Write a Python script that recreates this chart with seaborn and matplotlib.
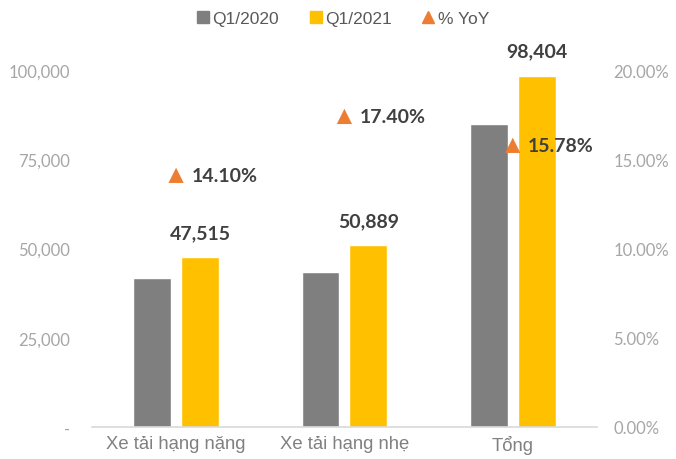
import numpy as np
import pandas as pd
import seaborn as sns
import matplotlib.pyplot as plt
from matplotlib.lines import Line2D
from matplotlib.ticker import FuncFormatter

categories = ["Xe tải hạng nặng", "Xe tải hạng nhẹ", "Tổng"]
q1_2020 = [41643, 43347, 84990]
q1_2021 = [47515, 50889, 98404]
yoy_pct = [14.10, 17.40, 15.78]
series_names = ["Q1/2020", "Q1/2021"]
legend_labels = ["Q1/2020", "Q1/2021", "% YoY"]

GRAY = "#7F7F7F"
GOLD = "#FFC000"
ORANGE = "#ED7D31"
TICK_C = "#A6A6A6"
LABEL_C = "#808080"
VALUE_C = "#404040"

df = pd.DataFrame({
    "cat": categories * 2,
    "series": [series_names[0]] * 3 + [series_names[1]] * 3,
    "value": q1_2020 + q1_2021,
})

sns.set_theme(style="white")
plt.rcParams["font.family"] = ["Liberation Sans", "DejaVu Sans"]

fig = plt.figure(figsize=(6.76, 4.60), dpi=100)
ax = fig.add_axes([0.136, 0.0696, 0.747, 0.776])

sns.barplot(data=df, x="cat", y="value", hue="series", order=categories,
            hue_order=series_names, palette=[GRAY, GOLD], width=0.568, gap=0.21,
            saturation=1, errorbar=None, legend=False, ax=ax)

ax.set_xlim(-0.5, 2.5)
ax.set_ylim(0, 100000)
ax.set_yticks([0, 25000, 50000, 75000, 100000])
ax.yaxis.set_major_formatter(FuncFormatter(lambda v, p: "-" if v == 0 else f"{v:,.0f}"))
ax.set_xlabel("")
ax.set_ylabel("")
for s in ["top", "left", "right"]:
    ax.spines[s].set_visible(False)
ax.spines["bottom"].set_color("#D9D9D9")
ax.spines["bottom"].set_linewidth(1.2)
ax.tick_params(axis="x", length=0, pad=6, labelsize=13.3, labelcolor=LABEL_C)
ax.tick_params(axis="y", length=0, pad=16, labelsize=12, labelcolor=TICK_C)
for t in ax.get_yticklabels():
    t.set_family(["Lato", "DejaVu Sans"])
for t in ax.get_xticklabels():
    t.set_family(["Liberation Sans", "DejaVu Sans"])

# value labels above the Q1/2021 bars
gold_bars = ax.containers[1]
for bar, v in zip(gold_bars, q1_2021):
    ax.annotate(f"{v:,.0f}", (bar.get_x() + bar.get_width() / 2, v),
                xytext=(0, 18), textcoords="offset points", ha="center", va="center",
                fontsize=14, fontweight="bold", color=VALUE_C, family=["Lato", "DejaVu Sans"])

# YoY growth on the secondary axis
ax2 = ax.twinx()
ax2.set_ylim(0, 20)
ax2.set_yticks([0, 5, 10, 15, 20])
ax2.yaxis.set_major_formatter(FuncFormatter(lambda v, p: f"{v:.2f}%"))
sns.scatterplot(x=np.arange(len(categories)), y=yoy_pct, marker="^", s=120,
                color=ORANGE, edgecolor="none", ax=ax2, zorder=5)
for i, p in enumerate(yoy_pct):
    ax2.annotate(f"{p:.2f}%", (i, p), xytext=(11, 0), textcoords="offset points",
                 ha="left", va="center", fontsize=14, fontweight="bold",
                 color=VALUE_C, family=["Lato", "DejaVu Sans"])
for s in ["top", "left", "right", "bottom"]:
    ax2.spines[s].set_visible(False)
ax2.tick_params(axis="y", length=0, pad=12, labelsize=12, labelcolor=TICK_C)
for t in ax2.get_yticklabels():
    t.set_family(["Lato", "DejaVu Sans"])
ax2.grid(False)
ax.grid(False)

handles = [
    Line2D([], [], marker="s", linestyle="none", markersize=9, color=GRAY),
    Line2D([], [], marker="s", linestyle="none", markersize=9, color=GOLD),
    Line2D([], [], marker="^", linestyle="none", markersize=9, color=ORANGE),
]
fig.legend(handles, legend_labels, loc="center", bbox_to_anchor=(0.507, 0.958), ncol=3,
           frameon=False, fontsize=12.5, labelcolor="#595959", handlelength=0.8,
           handletextpad=0.15, columnspacing=1.7)

fig.savefig("out.png", dpi=100)
